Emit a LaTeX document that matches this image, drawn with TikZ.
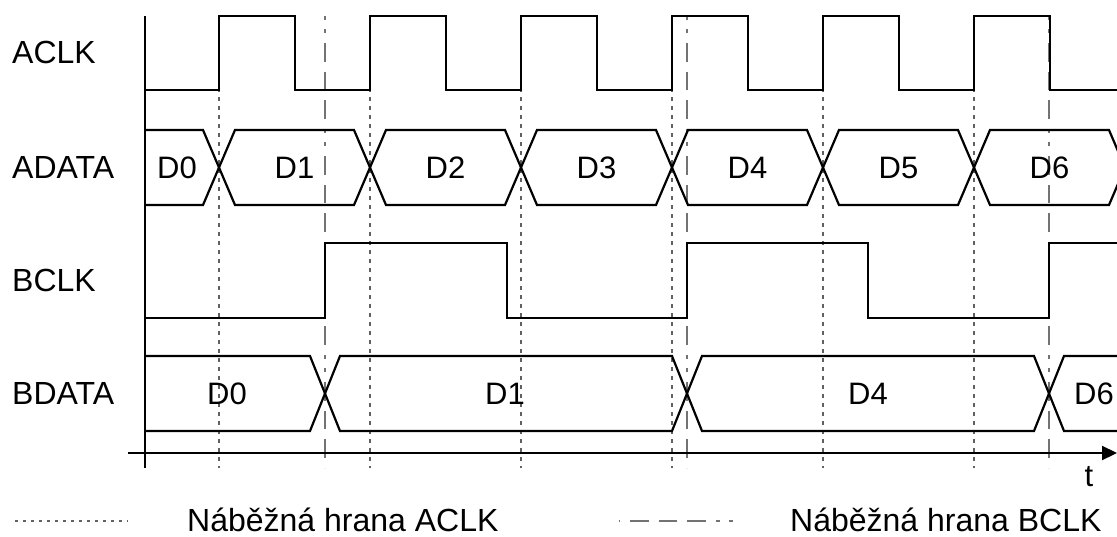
\documentclass[tikz,border=0pt]{standalone}
\usepackage{fontspec}
\setmainfont{Liberation Sans}
\usetikzlibrary{arrows.meta}
\begin{document}
\begin{tikzpicture}[x=1pt,y=-1pt,
  sig/.style={line width=2.2pt, line join=miter, line cap=butt},
  arise/.style={draw=black!62, line width=1.6pt, dash pattern=on 4pt off 5pt},
  brise/.style={draw=black!55, line width=1.8pt, dash pattern=on 4pt off 9pt on 4pt off 10pt on 19pt off 10pt on 18pt off 10pt on 19pt off 10pt},
  lbl/.style={font=\fontsize{32}{38}\selectfont, anchor=base west, inner sep=0pt},
  leg/.style={lbl, text depth=0pt},
  dat/.style={font=\fontsize{31}{37}\selectfont, anchor=base, inner sep=0pt}]
\useasboundingbox (0,0) rectangle (1117,536);
\begin{scope}
\clip (0,0) rectangle (1117,536);
% guide lines: rising edges of ACLK (dotted) and BCLK (dash-dot)
\foreach \x in {219,370,521,672,823,974} \draw[arise] (\x,16) -- (\x,468);
\foreach \x in {325,687,1049} \draw[brise] (\x,16) -- (\x,468);
% ACLK
\draw[sig] (145,90) -- (219,90) |- (295,16) |- (370,90) |- (446,16) |- (521,90) |- (597,16) |- (672,90) |- (748,16) |- (823,90) |- (899,16) |- (974,90) |- (1050,16) |- (1117,90);
% ADATA
\draw[sig] (145,130) -- (203,130) -- (235,205) -- (354,205) -- (386,130) -- (505,130) -- (537,205) -- (656,205) -- (688,130) -- (807,130) -- (839,205) -- (958,205) -- (990,130) -- (1109,130) -- (1141,205);
\draw[sig] (145,205) -- (203,205) -- (235,130) -- (354,130) -- (386,205) -- (505,205) -- (537,130) -- (656,130) -- (688,205) -- (807,205) -- (839,130) -- (958,130) -- (990,205) -- (1109,205) -- (1141,130);
% BCLK
\draw[sig] (145,318) -- (325,318) |- (507,243) |- (687,318) |- (868,243) |- (1049,318) |- (1117,243);
% BDATA
\draw[sig] (145,356) -- (310,356) -- (340,431) -- (672,431) -- (702,356) -- (1034,356) -- (1064,431) -- (1117,431);
\draw[sig] (145,431) -- (310,431) -- (340,356) -- (672,356) -- (702,431) -- (1034,431) -- (1064,356) -- (1117,356);
% axes
\draw[sig] (145,16) -- (145,468);
\draw[sig, -{Triangle[length=15pt,width=14pt]}] (128,453) -- (1117,453);
\end{scope}
% signal names
\node[lbl] (nACLK) at (12,63) {ACLK};
\node[lbl] (nADATA) at (12,178) {ADATA};
\node[lbl] (nBCLK) at (12,291) {BCLK};
\node[lbl] (nBDATA) at (12,404) {BDATA};
% ADATA values
\node[dat] (a0) at (177,178) {D0};
\node[dat] (a1) at (294.5,178) {D1};
\node[dat] (a2) at (445.5,178) {D2};
\node[dat] (a3) at (596.5,178) {D3};
\node[dat] (a4) at (747.5,178) {D4};
\node[dat] (a5) at (898.5,178) {D5};
\node[dat] (a6) at (1049.5,178) {D6};
% BDATA values
\node[dat] (b0) at (227,404) {D0};
\node[dat] (b1) at (505,404) {D1};
\node[dat] (b4) at (868,404) {D4};
\node[dat] (b6) at (1094,404) {D6};
% time label
\node[dat] (t) at (1089,486) {t};
% legend
\coordinate (la1) at (15,521);
\coordinate (la2) at (128,521);
\draw[arise, line width=1.3pt, dash pattern=on 3pt off 5pt] (la1) -- (la2);
\node[leg] (leA) at (187,531) {Náběžná hrana ACLK};
\coordinate (lb1) at (619,521);
\coordinate (lb2) at (733,521);
\draw[brise, dash phase=16pt] (lb1) -- (lb2);
\node[leg] (leB) at (790,531) {Náběžná hrana BCLK};
\end{tikzpicture}
\end{document}
